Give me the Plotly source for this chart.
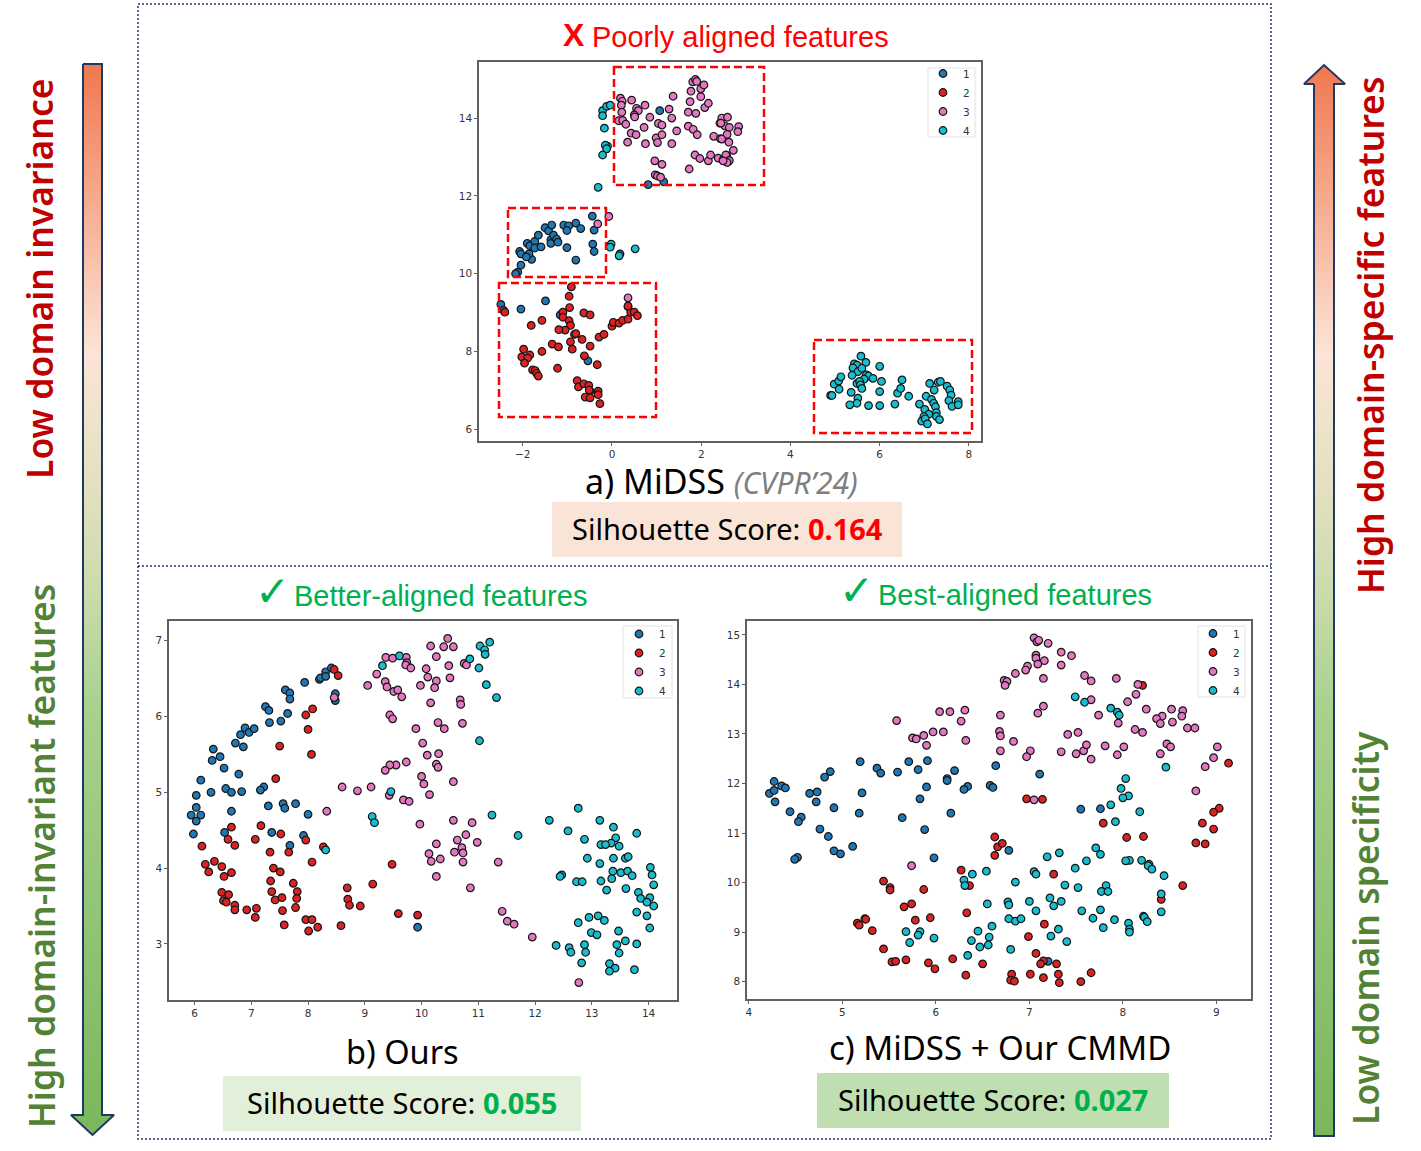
import plotly.graph_objects as go

# a) MiDSS
a_x1 = [-2.11,-2.16,-2.04,-1.80,-1.86,-2.07,-2.04,-1.92,-1.90,-1.84,-1.73,-1.73,-1.59,-1.65,-1.50,-1.42,-1.35,-1.37,-1.37,-1.31,-1.24,-1.21,-1.08,-0.97,-1.01,-0.81,-0.70,-1.01,-0.81,-0.44,-0.40,-0.43,-0.40,1.07,0.81,1.16,0.18,-2.49,-2.43,-2.04,-1.49,-1.16,-0.54,0.36]
a_y1 = [10.04,10.0,10.22,10.37,10.51,10.57,10.51,10.43,10.78,10.72,10.83,10.66,10.69,10.99,11.18,11.10,11.25,10.87,10.78,10.99,10.89,10.81,11.25,11.23,11.11,11.30,11.16,10.67,10.35,11.48,11.12,10.76,10.57,14.19,12.29,12.36,10.51,9.21,9.06,9.09,9.30,8.94,7.76,9.15]
a_x2 = [-0.91,-0.96,-0.95,-1.10,-1.10,-0.96,-0.93,-1.05,-1.19,-1.57,-1.81,-2.40,-0.63,-0.49,-0.84,-0.81,-0.67,-0.93,-0.89,-1.34,-1.20,-1.57,-1.98,-2.02,-1.84,-1.89,-1.96,-1.78,-1.72,-1.69,-1.65,-1.22,-0.62,-0.49,-0.33,-0.29,-0.18,0.0,0.03,0.16,0.24,0.36,0.42,0.50,0.57,0.36,-0.78,-0.75,-0.63,-0.52,-0.49,-0.51,-0.60,-0.49,-0.31,-0.31,-0.27]
a_y2 = [9.66,9.42,9.13,9.01,8.88,8.79,8.67,8.55,8.56,8.80,8.67,9.01,8.99,8.94,8.44,8.46,8.31,8.25,8.06,8.19,8.12,8.0,8.06,7.86,7.91,7.83,7.70,7.53,7.51,7.44,7.37,7.57,7.89,8.14,7.66,8.37,8.44,8.65,8.75,8.73,8.80,8.83,9.01,9.01,8.92,9.17,7.25,7.09,7.17,7.13,6.98,7.01,6.83,6.81,6.98,6.89,6.66]
a_x3 = [-0.07,-0.32,0.36,0.19,0.23,0.21,0.44,0.74,0.55,0.59,0.22,0.50,0.51,0.15,0.24,0.31,0.85,0.72,0.43,0.54,0.35,0.75,0.99,1.02,1.12,1.04,1.12,1.34,1.28,1.37,1.45,1.34,0.96,1.12,0.97,1.02,1.09,1.73,1.71,1.75,1.77,1.81,1.87,1.90,1.99,2.06,1.99,1.88,2.08,2.16,1.71,1.82,1.91,1.86,1.97,2.16,2.21,2.28,2.43,2.38,2.49,2.57,2.6,2.42,2.46,2.59,2.53,2.63,2.84,2.82,2.58,2.46,2.62,2.72,2.55,2.63,2.58,2.49,2.44]
a_y3 = [11.47,11.28,9.38,14.51,14.43,14.33,14.46,14.33,14.25,14.19,14.15,14.08,14.03,13.93,13.94,13.84,14.02,13.76,13.61,13.57,13.38,13.34,13.49,13.37,13.57,13.86,13.82,14.0,14.23,14.56,13.67,13.34,12.90,12.81,12.54,12.51,12.48,12.69,14.15,14.42,14.69,14.93,14.99,14.94,14.75,14.85,14.55,14.12,14.27,14.38,13.79,13.71,13.57,13.05,12.96,12.90,13.05,13.53,13.47,12.97,12.93,13.04,12.87,13.87,14.0,14.02,13.80,13.76,13.78,13.65,13.58,13.46,13.38,13.17,13.05,12.91,12.86,12.90,13.87]
a_x4 = [-0.21,-0.12,-0.04,-0.21,-0.17,-0.10,-0.15,-0.12,-0.21,-0.31,-0.02,-0.04,0.16,0.52,4.90,4.93,4.98,5.08,5.13,5.09,5.43,5.49,5.40,5.58,5.69,5.51,5.60,5.38,5.70,5.75,5.85,5.65,5.49,5.55,5.57,5.60,6.0,6.04,6.0,5.36,5.51,5.49,5.33,5.75,6.0,6.34,6.40,6.47,6.50,6.65,6.89,7.04,7.12,7.22,7.31,7.36,7.51,7.57,7.60,7.55,7.62,7.76,7.76,7.16,7.21,7.25,7.01,7.27,7.10,6.99,7.27,7.34,6.94,7.02,7.07]
a_y4 = [14.19,14.30,14.33,14.06,13.74,13.28,13.30,13.21,13.05,12.22,10.76,10.68,10.46,10.64,6.87,6.87,7.16,7.24,7.35,7.03,7.68,7.65,7.58,7.88,7.72,7.48,7.57,7.39,7.40,7.37,7.31,7.29,7.18,7.23,7.14,7.05,7.62,7.23,6.97,6.95,6.80,6.67,6.63,6.61,6.61,6.65,6.93,7.05,7.27,6.85,6.65,6.85,7.18,7.01,7.21,7.23,7.11,7.01,6.88,6.74,6.59,6.71,6.63,6.77,6.67,6.58,6.51,6.43,6.39,6.33,6.33,6.25,6.21,6.27,6.14]

# b) Ours
b_x1 = [5.94,6.03,6.11,6.03,5.98,6.03,6.11,6.29,6.31,6.33,6.45,6.52,6.55,6.65,6.83,6.78,6.72,6.86,6.81,6.89,6.96,7.05,7.32,7.52,7.64,7.25,7.31,7.60,7.68,7.68,7.94,8.20,8.22,8.31,8.31,8.41,8.48,8.48,7.22,7.16,7.30,7.56,7.59,7.78,8.0,6.65,6.53,7.36,7.68,7.92,9.93]
b_y1 = [4.70,4.80,4.70,4.62,4.45,4.96,5.16,5.0,5.42,5.57,5.47,5.32,5.05,5.0,5.01,5.24,5.65,5.60,5.76,5.85,5.79,5.84,5.92,5.94,6.04,6.13,6.08,6.35,6.31,6.23,6.45,6.49,6.51,6.59,6.53,6.64,6.30,6.21,5.07,5.03,4.82,4.85,4.79,4.85,4.71,4.75,4.47,4.47,4.30,4.43,3.22]
b_x2 = [8.46,8.53,7.96,8.08,8.0,8.06,7.50,7.43,6.65,6.59,6.71,6.13,7.17,7.07,7.52,7.33,7.66,7.96,8.27,8.07,6.35,6.19,6.25,6.48,6.52,6.65,6.48,6.60,6.51,6.56,6.71,6.71,6.92,7.09,7.07,7.39,7.51,7.34,7.36,7.42,7.54,7.55,7.58,7.74,7.81,7.80,7.78,7.96,8.07,8.17,8.01,8.58,8.69,8.70,8.73,8.92,9.14,9.48,9.59,9.93]
b_y2 = [6.62,6.54,6.02,6.10,5.83,5.50,5.61,5.18,4.54,4.38,4.30,4.29,4.56,4.38,4.45,4.21,4.21,4.37,4.28,4.08,4.09,4.05,3.95,4.02,3.89,3.94,3.68,3.65,3.57,3.55,3.51,3.45,3.45,3.47,3.35,4.0,3.95,3.83,3.69,3.58,3.61,3.44,3.25,3.80,3.69,3.60,3.48,3.32,3.32,3.22,3.17,3.24,3.74,3.59,3.51,3.50,3.79,4.05,3.40,3.38]
b_x3 = [8.33,8.46,8.60,8.87,9.11,9.05,9.21,9.36,9.39,9.37,9.49,9.73,9.74,9.72,9.81,9.51,9.58,9.65,9.44,9.49,9.90,9.73,9.55,9.44,9.36,9.43,9.68,9.78,10.46,10.16,10.39,10.56,10.26,10.48,10.08,10.11,10.26,9.98,10.23,10.50,10.16,10.68,10.69,10.75,10.79,10.29,10.40,10.72,10.02,10.10,10.30,10.26,10.29,10.0,10.04,10.14,10.56,9.97,10.56,10.89,10.26,10.63,10.78,10.98,10.71,10.13,10.58,10.73,10.17,10.33,10.73,10.26,11.35,10.86,11.42,11.51,11.63,11.95,12.77]
b_y3 = [4.75,6.25,5.07,5.02,5.07,6.41,6.56,6.46,6.39,6.78,6.77,6.78,6.71,6.68,6.64,6.33,6.35,6.26,6.02,5.97,5.84,5.40,5.36,5.36,5.29,4.96,4.90,4.88,7.03,6.93,6.92,6.92,6.79,6.67,6.63,6.52,6.47,6.41,6.38,6.51,6.18,6.22,6.16,6.70,6.68,5.92,5.84,5.91,5.65,5.49,5.51,5.37,5.33,5.21,5.11,4.97,5.14,4.58,4.63,4.60,4.32,4.37,4.44,4.34,4.27,4.19,4.21,4.20,4.09,4.12,4.08,3.89,4.08,3.74,3.43,3.30,3.26,3.09,2.49]
b_x4 = [9.31,9.61,9.46,9.13,9.17,8.31,11.03,11.20,11.11,11.12,10.85,11.01,11.14,11.32,11.02,11.24,11.70,12.25,12.76,12.58,13.14,13.38,13.79,12.87,13.42,13.34,13.16,13.24,13.48,12.92,13.14,13.38,13.59,13.64,14.03,13.37,13.51,13.63,13.71,14.06,12.47,12.44,12.73,12.83,13.16,13.35,14.09,13.26,13.60,13.82,13.86,14.02,13.97,14.09,13.79,13.97,14.02,12.95,13.11,13.22,12.76,13.47,12.99,13.09,13.59,13.79,13.44,13.48,12.37,12.60,12.63,12.87,12.89,12.82,13.31,13.41,13.31,13.75]
b_y4 = [6.67,6.80,5.01,4.68,4.60,4.24,6.93,6.98,6.88,6.82,6.76,6.64,6.42,6.25,5.68,4.70,4.43,4.63,4.79,4.49,4.63,4.54,4.46,4.38,4.40,4.33,4.31,4.31,4.29,4.13,4.06,4.13,4.13,4.15,4.01,3.96,3.94,3.96,3.90,3.91,3.91,3.89,3.82,3.82,3.83,3.86,3.78,3.71,3.73,3.68,3.60,3.61,3.55,3.50,3.42,3.37,3.21,3.35,3.37,3.31,3.28,3.17,3.15,3.12,3.04,3.0,2.99,2.88,2.98,2.95,2.89,2.99,2.89,2.75,2.74,2.68,2.64,2.66]

# c) MiDSS + Our CMMD
c_x1 = [4.22,4.27,4.27,4.35,4.39,4.28,4.44,4.56,4.53,4.65,4.73,4.72,4.91,4.76,4.85,4.91,4.98,5.11,4.52,4.49,4.81,4.87,5.19,5.37,5.41,5.59,5.71,5.81,5.91,5.21,5.18,5.64,5.83,5.90,5.88,5.98,6.12,6.12,6.20,6.16,6.34,6.30,6.58,6.61,6.64,7.11,6.78,7.55,7.76,7.20]
c_y1 = [11.80,12.04,11.86,11.95,11.91,11.63,11.43,11.32,11.23,11.80,11.83,11.63,11.51,11.08,10.93,10.64,10.58,10.73,10.51,10.47,12.13,12.24,12.44,12.31,12.21,12.23,12.44,12.28,12.46,11.81,11.40,11.31,11.69,11.93,11.07,10.50,12.10,12.06,12.26,11.40,11.94,11.88,11.96,11.92,12.36,12.19,10.65,11.48,11.49,8.41]
c_x2 = [5.44,5.51,5.51,5.87,6.27,6.36,5.66,5.74,6.33,5.78,5.94,5.16,5.18,5.24,5.25,5.32,5.44,5.53,5.57,5.68,5.92,5.99,6.18,6.50,6.32,6.63,6.66,6.71,6.63,6.97,7.14,8.21,9.13,9.03,8.97,8.85,8.97,8.78,8.88,7.79,8.04,8.22,8.64,8.41,7.26,7.16,6.99,7.07,7.15,7.12,7.29,6.81,6.80,6.84,7.01,7.15,7.31,7.32,7.55,7.66]
c_y2 = [10.03,9.90,9.85,9.86,10.25,9.94,9.51,9.57,9.39,9.24,9.29,9.18,9.14,9.27,9.26,9.03,8.66,8.40,8.41,8.44,8.38,8.26,8.46,8.36,8.13,10.92,10.72,10.79,10.55,11.69,11.68,13.98,12.41,11.50,11.42,11.20,11.08,10.80,10.78,11.20,10.91,10.93,9.94,9.66,10.17,9.16,8.91,8.57,8.42,8.36,8.36,8.15,8.03,8.01,8.15,8.08,8.15,7.98,8.0,8.18]
c_x3 = [5.58,5.75,5.79,5.87,5.90,5.97,6.08,6.04,6.15,6.31,6.27,6.32,5.74,7.05,7.08,7.10,7.20,7.07,7.07,7.16,7.09,6.98,6.96,6.85,6.73,6.76,6.74,7.34,7.45,7.34,7.15,7.59,7.66,7.93,8.16,8.14,8.05,7.66,7.15,7.09,6.69,7.74,8.25,8.52,8.64,8.63,8.42,8.36,8.40,8.53,7.95,8.13,8.21,8.69,8.77,6.68,6.69,6.83,7.41,7.52,6.69,7.01,6.97,7.34,7.50,7.58,7.61,7.66,7.81,7.94,8.01,8.40,8.47,8.51,9.01,8.97,8.88,8.78,7.05]
c_y3 = [13.27,12.92,12.90,12.97,12.77,13.04,13.04,13.45,13.45,13.48,13.26,12.87,10.34,14.94,14.86,14.89,14.83,14.59,14.53,14.48,14.41,14.37,14.29,14.22,14.08,14.06,13.98,14.65,14.58,14.39,14.12,14.18,14.07,14.12,14.0,13.80,13.65,13.69,13.56,13.42,13.38,13.38,13.50,13.50,13.47,13.36,13.36,13.31,13.21,13.24,13.22,13.09,13.03,13.12,13.12,13.05,12.96,12.85,12.99,13.03,12.66,12.66,12.54,12.64,12.60,12.66,12.78,12.49,12.76,12.58,12.74,12.60,12.80,12.74,12.74,12.52,12.34,11.85,11.67]
c_x4 = [6.30,6.31,6.39,6.54,6.55,5.68,5.83,5.81,5.72,5.98,6.45,6.38,6.47,6.57,6.56,6.34,6.60,7.49,7.59,7.87,7.94,7.96,8.46,8.03,7.98,8.06,8.0,7.87,8.18,7.92,7.71,7.76,7.32,7.19,7.61,7.49,8.07,8.03,8.20,8.28,8.27,8.31,8.44,7.05,7.07,6.85,7.38,7.52,7.82,7.77,7.84,8.41,7.22,7.0,7.34,7.26,6.77,6.78,7.07,7.56,7.76,8.41,6.78,6.85,6.91,7.68,7.91,8.22,8.23,8.26,8.06,8.07,8.07,7.79,7.31,7.23,7.40,6.80]
c_y4 = [10.05,9.94,10.17,10.23,9.57,9.01,9.01,8.94,8.79,8.88,9.02,8.83,8.70,8.90,8.74,8.53,9.12,13.75,13.64,13.52,13.44,13.38,12.33,12.10,11.90,11.75,11.71,11.57,11.43,11.23,10.70,10.57,10.60,10.52,10.44,10.29,10.45,10.44,10.45,10.37,10.34,10.27,10.14,10.22,10.17,10.01,9.95,9.90,9.94,9.82,9.82,9.77,9.69,9.62,9.62,9.53,9.61,9.55,9.43,9.43,9.45,9.41,9.27,9.22,9.27,9.28,9.25,9.32,9.30,9.21,9.18,9.06,9.0,9.09,9.06,8.92,8.81,8.65]

W, H = 1421, 1151
CLASS_NAMES = ["1", "2", "3", "4"]
CLASS_COLORS = ["#1f77b4", "#dc2222", "#e377c2", "#17becf"]
NAVY = "#1f3864"
TEXT_FONT = "Noto Sans"


def dom_x(left, right):
    return [left / W, right / W]


def dom_y(top, bottom):
    return [1 - bottom / H, 1 - top / H]


panels = [
    dict(suffix="", legend="legend", box=(479, 981, 62, 441), xr=[-2.98, 8.27], yr=[5.70, 15.44],
         xt=[-2, 0, 2, 4, 6, 8], yt=[6, 8, 10, 12, 14],
         xs=[a_x1, a_x2, a_x3, a_x4], ys=[a_y1, a_y2, a_y3, a_y4],
         leg=(923, 59), leg_frame=(928, 68, 975, 137)),
    dict(suffix="2", legend="legend2", box=(169, 677, 621, 1000), xr=[5.55, 14.50], yr=[2.26, 7.26],
         xt=[6, 7, 8, 9, 10, 11, 12, 13, 14], yt=[3, 4, 5, 6, 7],
         xs=[b_x1, b_x2, b_x3, b_x4], ys=[b_y1, b_y2, b_y3, b_y4],
         leg=(619, 619.5), leg_frame=(623, 626, 672, 698)),
    dict(suffix="3", legend="legend3", box=(747, 1251, 621, 999), xr=[3.98, 9.37], yr=[7.65, 15.28],
         xt=[4, 5, 6, 7, 8, 9], yt=[8, 9, 10, 11, 12, 13, 14, 15],
         xs=[c_x1, c_x2, c_x3, c_x4], ys=[c_y1, c_y2, c_y3, c_y4],
         leg=(1193, 619), leg_frame=(1198, 626, 1245, 697)),
]

fig = go.Figure()
layout = dict(
    width=W, height=H, margin=dict(l=0, r=0, t=0, b=0, pad=0),
    paper_bgcolor="white", plot_bgcolor="rgba(0,0,0,0)", autosize=False,
    # page-wide axes in image pixels, for the frames, arrows and captions
    xaxis4=dict(domain=[0, 1], range=[0, W], visible=False, fixedrange=True, anchor="y4"),
    yaxis4=dict(domain=[0, 1], range=[H, 0], visible=False, fixedrange=True, anchor="x4"),
)

for p in panels:
    left, right, top, bottom = p["box"]
    axis = dict(showgrid=False, zeroline=False, showline=True, mirror=True, linecolor="#606060",
                linewidth=1.5, ticks="outside", ticklen=3, tickwidth=1, tickcolor="#606060",
                tickfont=dict(family="DejaVu Sans", size=10.5, color="#333333"))
    layout["xaxis" + p["suffix"]] = dict(axis, domain=dom_x(left, right), range=p["xr"], tickvals=p["xt"],
                                         anchor="y" + p["suffix"])
    layout["yaxis" + p["suffix"]] = dict(axis, domain=dom_y(top, bottom), range=p["yr"], tickvals=p["yt"],
                                         anchor="x" + p["suffix"])
    layout[p["legend"]] = dict(x=p["leg"][0] / W, y=1 - p["leg"][1] / H, xanchor="left", yanchor="top",
                               bgcolor="rgba(0,0,0,0)", borderwidth=0,
                               font=dict(family="DejaVu Sans", size=10.5, color="#333333"), itemwidth=30)
    for name, color, xs, ys in zip(CLASS_NAMES, CLASS_COLORS, p["xs"], p["ys"]):
        fig.add_trace(go.Scatter(
            x=xs, y=ys, mode="markers", name=name, legend=p["legend"],
            xaxis="x" + p["suffix"], yaxis="y" + p["suffix"],
            marker=dict(size=7.6, color=color, line=dict(color="#151515", width=1.2)),
        ))

# gradient arrows, polygons in image pixels; a vertical gradient runs from bottom to top
ARROW_SCALE = [[0, "#7ab75a"], [0.4, "#a9d18e"], [0.5, "#c8dbaa"], [0.6, "#e2e0bf"], [0.67, "#efe3cc"],
               [0.73, "#fce4d6"], [1, "#f0784f"]]
arrow_left_x = [83, 102, 102, 114, 92.5, 71, 83, 83]
arrow_left_y = [64, 64, 1115, 1115, 1135, 1115, 1115, 64]
arrow_right_x = [1314, 1304, 1324, 1345, 1334, 1334, 1314, 1314]
arrow_right_y = [84, 84, 65, 84, 84, 1136, 1136, 84]
for ax_x, ax_y in [(arrow_left_x, arrow_left_y), (arrow_right_x, arrow_right_y)]:
    fig.add_trace(go.Scatter(
        x=ax_x, y=ax_y, xaxis="x4", yaxis="y4", mode="lines", fill="toself", showlegend=False,
        line=dict(color=NAVY, width=2),
        fillgradient=dict(type="vertical", colorscale=ARROW_SCALE),
    ))

shapes = [
    dict(type="rect", x0=138, x1=1271, y0=4, y1=1139),
    dict(type="line", x0=138, x1=1271, y0=566, y1=566),
]
for s in shapes:
    s.update(xref="x4", yref="y4", line=dict(color=NAVY, width=1.5, dash="2px,2px"))

for x0, y0, x1, y1 in [(614, 67, 764, 185), (508, 208, 606, 277), (499, 283, 656, 417), (814, 340, 972, 433)]:
    shapes.append(dict(type="rect", xref="x4", yref="y4", x0=x0, x1=x1, y0=y0, y1=y1,
                       line=dict(color="#ff0000", width=2.5, dash="8px,4px")))

for p in panels:
    x0, y0, x1, y1 = p["leg_frame"]
    shapes.append(dict(type="rect", xref="x4", yref="y4", x0=x0, x1=x1, y0=y0, y1=y1,
                       line=dict(color="#e2e2e2", width=1), layer="below"))

for x0, y0, x1, y1, fill in [(552, 502, 902, 557, "#f9e4d7"), (223, 1076, 581, 1131, "#e2efd9"),
                             (817, 1073, 1169, 1128, "#c0dfb0")]:
    shapes.append(dict(type="rect", xref="x4", yref="y4", x0=x0, x1=x1, y0=y0, y1=y1,
                       fillcolor=fill, line=dict(width=0), layer="below"))
layout["shapes"] = shapes


def label(x, y, text, size, color="black", family=TEXT_FONT, angle=0, weight=None, height=None):
    font = dict(family=family, size=size, color=color)
    if weight:
        font["weight"] = weight
    return dict(x=x, y=y, xref="x4", yref="y4", text=text, showarrow=False, textangle=angle,
                xanchor="center", yanchor="middle", font=font, height=height)


DARK_RED = "#c00000"
DARK_GREEN = "#548235"
GREEN = "#00b050"
RED = "#ff0000"
layout["annotations"] = [
    label(39, 279, "Low domain invariance", 35.5, DARK_RED, angle=-90, weight=600),
    label(41, 856, "High domain-invariant features", 35.5, DARK_GREEN, angle=-90, weight=600),
    label(1370, 336, "High domain-specific features", 35.5, DARK_RED, angle=-90, weight=600),
    label(1365, 928, "Low domain specificity", 35.5, DARK_GREEN, angle=-90, weight=600),
    label(574, 35, "<b>X</b>", 32, RED, "Liberation Sans"),
    label(740, 37, "Poorly aligned features", 29, RED, "Liberation Sans"),
    label(272, 591, "✓", 42, GREEN, "DejaVu Sans"),
    label(440, 596, "Better-aligned features", 29, GREEN, "Liberation Sans"),
    label(856, 590, "✓", 42, GREEN, "DejaVu Sans"),
    label(1015, 595, "Best-aligned features", 29, GREEN, "Liberation Sans"),
    label(721, 481, 'a) MiDSS <i><span style="color:#7f7f7f;font-size:30px">(CVPR’24)</span></i>', 34, height=36),
    label(727, 528, f'Silhouette Score: <b><span style="color:{RED}">0.164</span></b>', 29),
    label(402, 1051, "b) Ours", 32.5),
    label(402, 1102, f'Silhouette Score: <b><span style="color:{GREEN}">0.055</span></b>', 29),
    label(1000, 1047, "c) MiDSS + Our CMMD", 33),
    label(993, 1099, f'Silhouette Score: <b><span style="color:{GREEN}">0.027</span></b>', 29),
]

fig.update_layout(**layout)
fig.write_html("out.html", config=dict(displayModeBar=False), post_script="document.body.style.margin='0';")
